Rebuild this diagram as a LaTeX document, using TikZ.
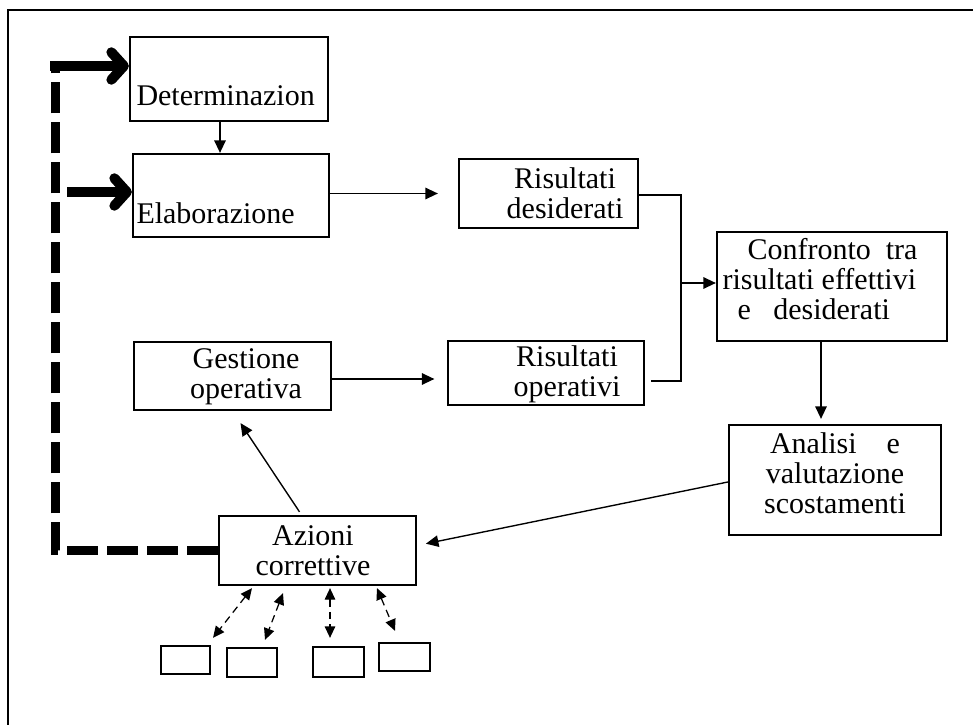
\documentclass[tikz,border=0pt]{standalone}
\usepackage{fontspec}
\setmainfont{Liberation Serif}
\usetikzlibrary{arrows.meta,positioning,calc}

\begin{document}
\begin{tikzpicture}[x=0.4pt, y=-0.4pt,
  box/.style={draw, line width=0.9pt, inner sep=0pt},
  txt/.style={inner sep=0pt, font=\fontsize{12}{12}\selectfont, align=center},
  arr/.style={-{Triangle[length=5pt,width=4.6pt]}, line width=0.55pt},
  bigarr/.style={-{Straight Barb[length=5pt,width=11pt,round]}, line width=4pt},
  loopline/.style={line width=3.6pt, dash pattern=on 12.4pt off 3.6pt},
  bus/.style={line width=0.8pt},
  link/.style={{Triangle[length=4.6pt,width=4.2pt]}-{Triangle[length=4.6pt,width=4.2pt]},
               line width=0.5pt, densely dashed}
]
  \useasboundingbox (0,0) rectangle (973,725);
  \draw[line width=0.8pt] (8,725) -- (8,10) -- (973,10);

  \node[box, minimum width=79.2pt, minimum height=33.6pt] (det)  at (229,79)    {};
  \node[box, minimum width=78.4pt, minimum height=33.2pt] (elab) at (231,195.5) {};
  \node[box, minimum width=71.6pt, minimum height=27.6pt] (rdes) at (548.5,193.5) {};
  \node[box, minimum width=78.4pt, minimum height=25.6pt] (rop)  at (546,373)   {};
  \node[box, minimum width=78.8pt, minimum height=27.2pt] (gest) at (232.5,376) {};
  \node[box, minimum width=92pt,   minimum height=43.6pt] (conf) at (832,286.5) {};
  \node[box, minimum width=84.8pt, minimum height=44pt]   (anal) at (835,480)   {};
  \node[box, minimum width=78.8pt, minimum height=27.6pt] (azi)  at (317.5,550.5) {};

  \node[box, minimum width=19.6pt, minimum height=11.2pt] (s1) at (185.5,660) {};
  \node[box, minimum width=20pt,   minimum height=11.6pt] (s2) at (252,662.5) {};
  \node[box, minimum width=20.4pt, minimum height=12pt]   (s3) at (338.5,662) {};
  \node[box, minimum width=20.4pt, minimum height=11.2pt] (s4) at (404.5,657) {};

  \node[txt, anchor=base west] (detlabel)  at (136,106) {Determinazion};
  \node[txt, anchor=base west] (elablabel) at (136,224) {Elaborazione};
  \node[txt, anchor=base] (rdeslabel) at (565,219) {Risultati\\desiderati};
  \node[txt, anchor=base] (roplabel)  at (567,396) {Risultati\\operativi};
  \node[txt, anchor=base] (gestlabel) at (246,398) {Gestione\\operativa};
  \node[txt, anchor=base] (azilabel)  at (313,575) {Azioni\\correttive};
  \node[txt, anchor=base west, align=left] (conflabel) at (722,320)
    {\hspace*{10pt}Confronto\ \ tra\\risultati effettivi\\\hspace*{6pt}e\ \ \ desiderati};
  \node[txt, anchor=base] (anallabel) at (835,513) {Analisi\hspace{12pt}e\\valutazione\\scostamenti};

  \coordinate (detout) at ($(det.south)+(-9,0)$);
  \draw[arr] (detout) -- (detout |- elab.north);

  \coordinate (loop) at (55,66);
  \draw[loopline] (azi.west) -| (loop);
  \draw[bigarr] ($(loop)+(-5,0)$) -- (loop -| det.west);
  \coordinate (elabin) at (67,192);
  \draw[bigarr] (elabin) -- (elabin -| elab.west);

  \draw[arr, shorten >=8pt] (elab.east |- rdes.west) -- (rdes.west);
  \draw[arr, shorten >=5pt] ($(gest.east)+(0,3)$) -- ($(rop.west)+(0,6)$);

  \coordinate (merge) at (681,283);
  \draw[bus] ($(rdes.east)+(0,2)$) -| (merge) |- ($(rop.east)+(6,8)$);
  \draw[arr] (merge) -- (merge -| conf.west);

  \draw[arr, shorten >=2pt] ($(conf.south)+(-11,0)$) -- ($(anal.north)+(-14,0)$);
  \draw[arr, shorten >=3.6pt] ($(anal.west)+(0,2)$) -- ($(azi.east)+(0,-5)$);
  \draw[arr] ($(azi.north)+(-18,-3)$) -- ($(gest.south)+(8,12)$);

  \draw[link] ($(azi.south)+(-65.5,2)$) -- ($(s1.north)+(27.5,-7)$);
  \draw[link] ($(azi.south)+(-34.5,7)$) -- ($(s2.north)+(13,-7)$);
  \draw[link] ($(azi.south)+(12.5,2)$)  -- ($(s3.north)+(-8.5,-8)$);
  \draw[link] ($(azi.south)+(59.5,2)$)  -- ($(s4.north)+(-9.5,-11)$);
\end{tikzpicture}
\end{document}
